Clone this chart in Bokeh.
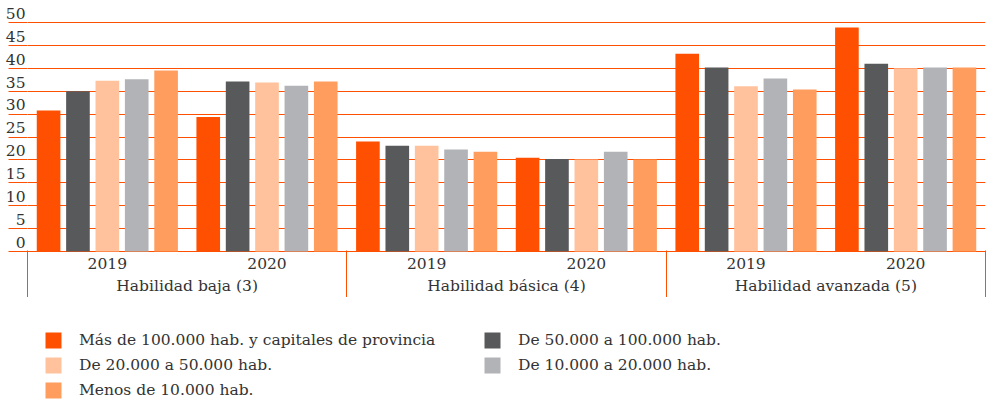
from bokeh.plotting import figure
from bokeh.models import (ColumnDataSource, FactorRange, Range1d, FixedTicker, LinearAxis,
                          CategoricalAxis, Legend, LegendItem)
from bokeh.transform import dodge
from bokeh.layouts import column
from bokeh.embed import file_html
from bokeh.resources import INLINE

# ---- data ----
groups = ["Habilidad baja (3)", "Habilidad básica (4)", "Habilidad avanzada (5)"]
years = ["2019", "2020"]
series_names = [
    "Más de 100.000 hab. y capitales de provincia",
    "De 50.000 a 100.000 hab.",
    "De 20.000 a 50.000 hab.",
    "De 10.000 a 20.000 hab.",
    "Menos de 10.000 hab.",
]
mas_100k = [30.8, 29.4, 24.0, 20.5, 43.2, 48.9]
de_50k_100k = [35.0, 37.1, 23.1, 20.2, 40.2, 41.0]
de_20k_50k = [37.3, 36.9, 23.1, 20.1, 36.1, 40.0]
de_10k_20k = [37.6, 36.2, 22.3, 21.8, 37.8, 40.2]
menos_10k = [39.5, 37.1, 21.8, 20.1, 35.4, 40.2]
y_ticks = [0, 5, 10, 15, 20, 25, 30, 35, 40, 45, 50]
y_tick_labels = [str(t) for t in y_ticks]

series_values = [mas_100k, de_50k_100k, de_20k_50k, de_10k_20k, menos_10k]
colors = ["#FE5000", "#58595B", "#FFC29C", "#B2B3B7", "#FF9D5F"]
ORANGE = "#FE5000"
TEXT = "#333333"
FONT = "DejaVu Serif"
FS = "15.5px"

factors = [(g, y) for g in groups for y in years]
data = {"x": factors}
keys = ["s0", "s1", "s2", "s3", "s4"]
for k, v in zip(keys, series_values):
    data[k] = v
source = ColumnDataSource(data)

x_range = FactorRange(*factors, factor_padding=0, group_padding=0, subgroup_padding=0,
                      range_padding=0)
Y0, Y1 = -0.2, 54.8          # value axis (frame reaches the top of the canvas)
LAB_SHIFT = 2.0              # tick labels sit just above their gridline

p = figure(x_range=x_range, y_range=Range1d(Y0, Y1), frame_width=958, frame_height=252,
           output_backend="svg", toolbar_location=None,
           x_axis_location=None, y_axis_location=None,
           min_border_left=27, min_border_right=3, min_border_top=0, min_border_bottom=0)
p.extra_y_ranges = {"lab": Range1d(Y0 - LAB_SHIFT, Y1 - LAB_SHIFT)}
p.outline_line_color = None
p.background_fill_color = "white"

# bars
pitch = 0.184
offsets = [-2 * pitch, -pitch, 0, pitch, 2 * pitch]
renderers = []
for k, off, c in zip(keys, offsets, colors):
    r = p.vbar(x=dodge("x", off, range=p.x_range), top=k, width=0.148, source=source,
               fill_color=c, line_color=None)
    renderers.append(r)

# grid
p.ygrid.ticker = FixedTicker(ticks=y_ticks)
p.ygrid.grid_line_color = ORANGE
p.ygrid.grid_line_width = 1
p.xgrid.grid_line_color = None

# y axis: labels above the gridlines, minor ticks continue the gridlines to the left
yax = LinearAxis(y_range_name="lab",
                 ticker=FixedTicker(ticks=y_ticks, minor_ticks=[t - LAB_SHIFT for t in y_ticks]),
                 major_label_overrides={t: l for t, l in zip(y_ticks, y_tick_labels)})
yax.axis_line_color = None
yax.major_tick_line_color = None
yax.major_tick_in = 0
yax.major_tick_out = 0
yax.minor_tick_in = 0
yax.minor_tick_out = 19
yax.minor_tick_line_color = ORANGE
yax.major_label_standoff = -17
yax.major_label_text_font = FONT
yax.major_label_text_font_size = FS
yax.major_label_text_color = TEXT
p.add_layout(yax, "left")

# categorical axis (years + groups)
xa = CategoricalAxis()
xa.axis_line_color = None
xa.major_tick_line_color = None
xa.major_tick_out = 0
xa.major_tick_in = 0
xa.minor_tick_line_color = None
xa.separator_line_color = None
xa.major_label_text_font = FONT
xa.major_label_text_font_size = FS
xa.major_label_text_color = TEXT
xa.major_label_standoff = 5
xa.group_text_font = FONT
xa.group_text_font_size = FS
xa.group_text_font_style = "normal"
xa.group_text_color = TEXT
p.add_layout(xa, "below")

# group separators (minor ticks pointing up through the category labels)
sep = LinearAxis(ticker=FixedTicker(ticks=[], minor_ticks=[i * len(years) for i in range(len(groups) + 1)]))
sep.axis_line_color = None
sep.major_tick_line_color = None
sep.major_tick_out = 0
sep.major_tick_in = 0
sep.major_label_text_color = None
sep.major_label_standoff = 0
sep.minor_tick_in = 47
sep.minor_tick_out = 0
sep.minor_tick_line_color = ORANGE
p.add_layout(sep, "below")

# legend (its own strip below the chart); swatch renderers hold a single zero-size bar
p2 = figure(width=988, height=104, output_backend="svg", toolbar_location=None,
            x_axis_location=None, y_axis_location=None, min_border=0)
p2.outline_line_color = None
p2.xgrid.grid_line_color = None
p2.ygrid.grid_line_color = None
swatches = [p2.vbar(x=[0], top=[0], bottom=[0], width=0, fill_color=c, line_color=None)
            for c in colors]
items = [LegendItem(label=series_names[i], renderers=[swatches[i]]) for i in range(5)]
legend = Legend(items=items, orientation="horizontal", ncols=2, location=(16, 1),
                border_line_color=None, background_fill_alpha=0, margin=0, padding=0,
                spacing=5, glyph_width=20, glyph_height=20, label_standoff=16,
                label_width=398, label_height=20, label_text_font=FONT,
                label_text_font_size=FS, label_text_color=TEXT)
p2.add_layout(legend, "center")

layout = column(p, p2, spacing=0)
open("out.html", "w").write(file_html(layout, INLINE))
